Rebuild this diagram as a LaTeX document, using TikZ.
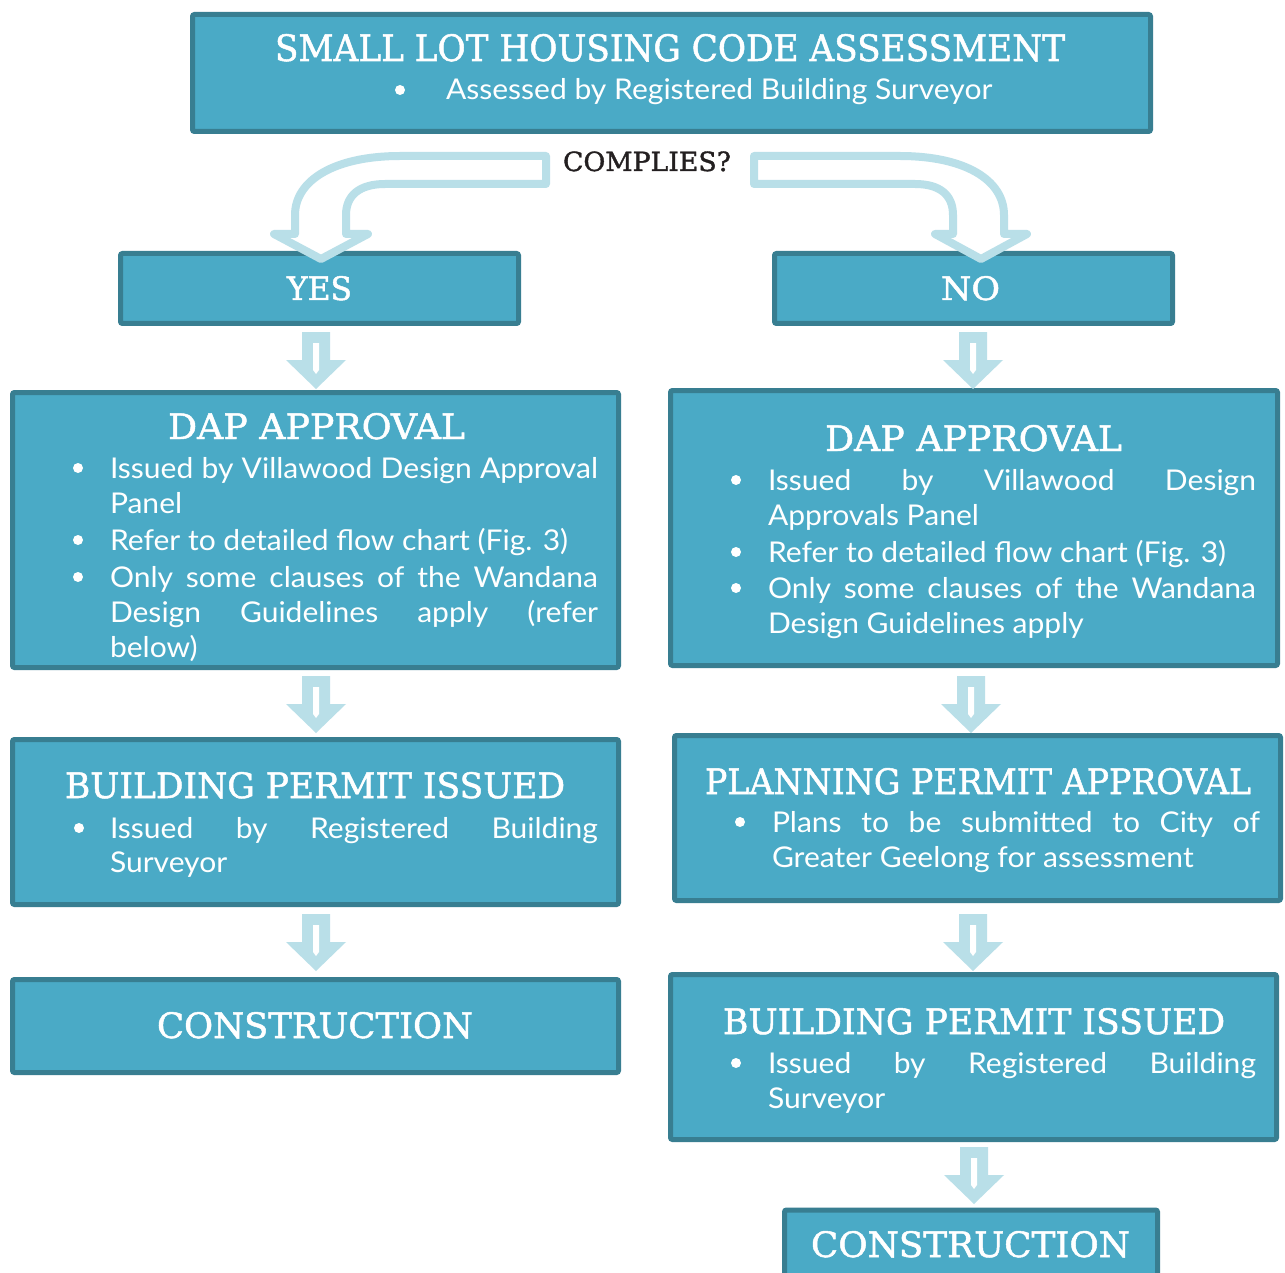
\documentclass[tikz,border=0pt]{standalone}
\usepackage{fontspec}
\usepackage{graphicx}
\newfontfamily\bodyfont[FakeStretch=1.05]{Lato}
\newfontfamily\headfont[FakeBold=1.4]{DejaVu Serif}
\definecolor{boxfill}{HTML}{4AAAC6}
\definecolor{boxline}{HTML}{387E91}
\definecolor{arrowc}{HTML}{B9DFE8}
\definecolor{darktext}{HTML}{231F20}
\newcommand\jl[1]{\makebox[244pt][s]{#1}}
\begin{document}
\begin{tikzpicture}[x=0.5pt,y=-0.5pt,
  box/.style={draw=boxline, fill=boxfill, line width=2.5pt, rounded corners=1pt, inner sep=0pt, outer sep=0pt},
  ttl/.style={anchor=base west, inner sep=0pt, outer sep=0pt, text=white, font=\headfont},
  body/.style={anchor=base west, inner sep=0pt, outer sep=0pt, text=white, font=\bodyfont\fontsize{14.3pt}{17pt}\selectfont},
  bul/.style={circle, fill=white, inner sep=0pt, minimum size=5pt},
  bent/.style={draw=arrowc, fill=white, line width=4pt, line join=round},
  blockdown/.pic={
    \fill[arrowc] (-14,0) -- (14,0) -- (14,28) -- (30,28) -- (0,57) -- (-30,28) -- (-14,28) -- cycle;
    \fill[white] (-3,11) -- (3,11) -- (3,38) -- (0,42) -- (-3,38) -- cycle;
  }]
\clip (0,0) rectangle (1285,1273);
\fill[white] (0,0) rectangle (1285,1273);

% boxes
\node[box, minimum width=479pt, minimum height=58.5pt] (top) at (671.5,73) {};
\node[box, minimum width=199pt, minimum height=35pt] (yes) at (319.5,288.5) {};
\node[box, minimum width=199pt, minimum height=35pt] (no) at (973.5,288.5) {};
\node[box, minimum width=303pt, minimum height=137.5pt] (dapL) at (315.5,530) {};
\node[box, minimum width=303.5pt, minimum height=137.5pt] (dapR) at (974,528) {};
\node[box, minimum width=303pt, minimum height=82.5pt] (bpL) at (315.5,822) {};
\node[box, minimum width=303pt, minimum height=82.5pt] (ppR) at (977.5,818) {};
\node[box, minimum width=303pt, minimum height=46.5pt] (conL) at (315.5,1026) {};
\node[box, minimum width=303pt, minimum height=82.5pt] (bpR) at (973.5,1057) {};
\node[box, minimum width=186.5pt, minimum height=45pt] (conR) at (971,1255) {};

% titles
\node[ttl] (t-top) at (275,61) {\resizebox{395pt}{13.5pt}{SMALL LOT HOUSING CODE ASSESSMENT}};
\node[ttl, text=darktext] (t-comp) at (563,171) {\resizebox{84pt}{9.8pt}{COMPLIES?}};
\node[ttl] (t-yes) at (287,300) {\resizebox{32.5pt}{12pt}{YES}};
\node[ttl] (t-no) at (941,300) {\resizebox{29.5pt}{12pt}{NO}};
\node[ttl] (t-dapL) at (168,439) {\resizebox{148.5pt}{13pt}{DAP APPROVAL}};
\node[ttl] (t-dapR) at (825,451) {\resizebox{148.5pt}{13pt}{DAP APPROVAL}};
\node[ttl] (t-bpL) at (65,798) {\resizebox{250pt}{13pt}{BUILDING PERMIT ISSUED}};
\node[ttl] (t-ppR) at (705,794) {\resizebox{273pt}{13pt}{PLANNING PERMIT APPROVAL}};
\node[ttl] (t-bpR) at (723,1034) {\resizebox{251pt}{13pt}{BUILDING PERMIT ISSUED}};
\node[ttl] (t-conL) at (157,1038) {\resizebox{158pt}{13pt}{CONSTRUCTION}};
\node[ttl] (t-conR) at (811,1257) {\resizebox{159.5pt}{13pt}{CONSTRUCTION}};

% body: top
\node[bul] (b-top) at (400,90) {};
\node[body] (l-top) at (446,100) {Assessed by Registered Building Surveyor};

% body: DAP left
\node[bul] (b-dL1) at (78,468) {};
\node[bul] (b-dL2) at (78,540) {};
\node[bul] (b-dL3) at (78,577) {};
\node[body] (l-dL1) at (110,478) {\jl{Issued by Villawood Design Approval}};
\node[body] (l-dL2) at (110,513) {Panel};
\node[body] (l-dL3) at (110,550) {Refer to detailed flow chart (Fig. 3)};
\node[body] (l-dL4) at (110,587) {\jl{Only some clauses of the Wandana}};
\node[body] (l-dL5) at (110,622) {\jl{Design Guidelines apply (refer}};
\node[body] (l-dL6) at (110,657) {below)};

% body: DAP right
\node[bul] (b-dR1) at (736,480) {};
\node[bul] (b-dR2) at (736,552) {};
\node[bul] (b-dR3) at (736,588) {};
\node[body] (l-dR1) at (768,490) {\jl{Issued by Villawood Design}};
\node[body] (l-dR2) at (768,525) {Approvals Panel};
\node[body] (l-dR3) at (768,562) {Refer to detailed flow chart (Fig. 3)};
\node[body] (l-dR4) at (768,598) {\jl{Only some clauses of the Wandana}};
\node[body] (l-dR5) at (768,633) {Design Guidelines apply};

% body: building permit left
\node[bul] (b-bL1) at (79,828) {};
\node[body] (l-bL1) at (110,838) {\jl{Issued by Registered Building}};
\node[body] (l-bL2) at (110,872) {Surveyor};

% body: planning permit right
\node[bul] (b-pR1) at (740,822) {};
\node[body] (l-pR1) at (772,832) {\jl{Plans to be submitted to City of}};
\node[body] (l-pR2) at (772,867) {Greater Geelong for assessment};

% body: building permit right
\node[bul] (b-bR1) at (736,1063) {};
\node[body] (l-bR1) at (768,1073) {\jl{Issued by Registered Building}};
\node[body] (l-bR2) at (768,1108) {Surveyor};

% down block arrows
\pic at (316,332) {blockdown};
\pic at (316,676) {blockdown};
\pic at (316,914) {blockdown};
\pic at (973,332) {blockdown};
\pic at (971,676) {blockdown};
\pic at (973,914) {blockdown};
\pic at (974,1147) {blockdown};

% bent arrows from COMPLIES?
\draw[bent] (546,156) -- (400,156) .. controls (335,156) and (295,180) .. (295,215) -- (295,234) -- (274,234) -- (321,259) -- (368,234) -- (346,234) -- (346,215) .. controls (346,195) and (360,184) .. (385,184) -- (546,184) -- cycle;
\draw[bent] (754,156) -- (900,156) .. controls (965,156) and (1004,180) .. (1004,215) -- (1004,234) -- (1027,234) -- (981,259) -- (935,234) -- (953,234) -- (953,215) .. controls (953,195) and (940,184) .. (915,184) -- (754,184) -- cycle;
\end{tikzpicture}
\end{document}
